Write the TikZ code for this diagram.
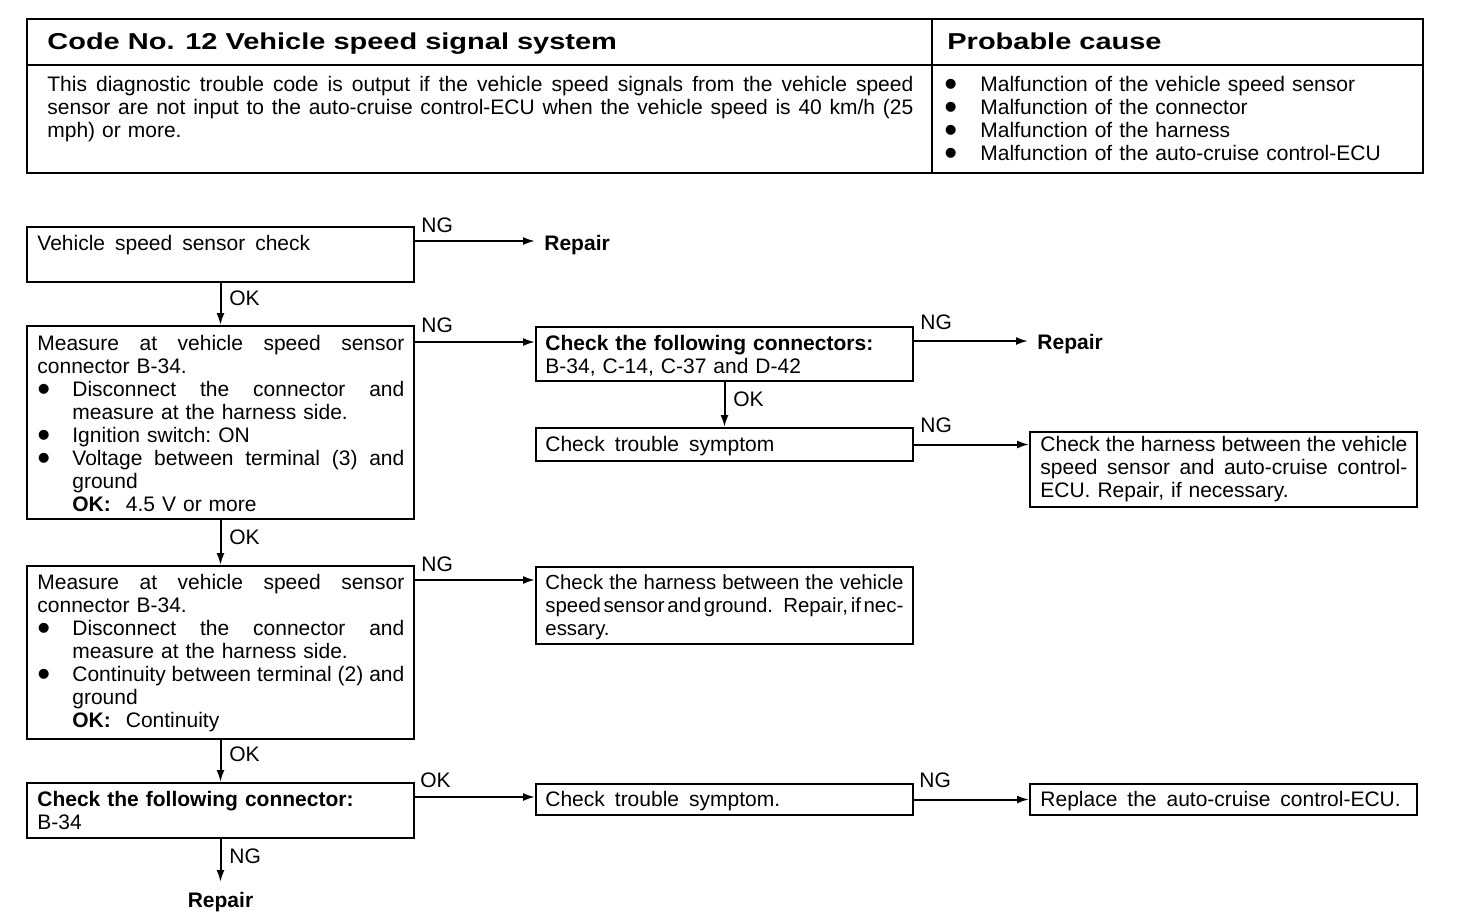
\documentclass[tikz,border=0pt]{standalone}
\usepackage{fontspec}
\setmainfont{Liberation Sans}
\usetikzlibrary{arrows.meta,calc,fit}
\newcommand\jl[2]{\leavevmode\hbox to #1{\spaceskip=2pt plus 1fil\relax #2}}
\newcommand\jlt[2]{\leavevmode\hbox to #1{\spaceskip=0.6pt plus 1fil\relax #2}}
\newcommand\bdot{\smash{\raisebox{-0.24em}{\scalebox{1.75}{\textbullet}}}}
\newcommand\bul{\makebox[17.5pt][l]{\bdot}}
\newcommand\bulc{\makebox[18pt][l]{\bdot}}
\newcommand\ind{\hspace*{17.5pt}}
\newcommand\bodyfont{\fontsize{10.5}{11.5}\selectfont\frenchspacing\spaceskip=5pt plus 2pt minus 1pt\relax}
\tikzset{
  box/.style={draw, line width=1pt, inner sep=0pt},
  txt/.style={inner sep=0pt, anchor=base west, align=left, font=\bodyfont},
  lbl/.style={inner sep=0pt, anchor=west, font=\fontsize{10.5}{11.5}\selectfont},
  rep/.style={inner xsep=4.5pt, inner ysep=2pt, anchor=west, font=\fontsize{10.5}{11.5}\selectfont\bfseries},
  arr/.style={line width=1pt, -{Latex[length=6pt,width=4pt]}},
  head/.style={inner sep=0pt, anchor=base west, font=\fontsize{11.5}{13}\selectfont\bfseries},
}
\begin{document}
\begin{tikzpicture}[x=0.5pt,y=-0.5pt]
\useasboundingbox (0,0) rectangle (1472,918);

% ---------- top table ----------
\node[box, line width=1.2pt, fit={(27,19) (1423,173)}] (tbl) {};
\draw[line width=1pt] (27,65) -- (1423,65);
\draw[line width=1pt] (932,19) -- (932,173);
\node[head] (title) at (47,49) {\scalebox{1.26}[1]{Code No. 12 Vehicle speed signal system}};
\node[head] (pc) at (947,49) {\scalebox{1.26}[1]{Probable cause}};
\node[txt, text width=433pt] (desc) at (47,91) {%
\jl{433pt}{This diagnostic trouble code is output if the vehicle speed signals from the vehicle speed}\\
\jl{433pt}{sensor are not input to the auto-cruise control-ECU when the vehicle speed is 40 km/h (25}\\
mph) or more.};
\node[txt, text width=235pt] (cause) at (944,91) {%
\bulc Malfunction of the vehicle speed sensor\\
\bulc Malfunction of the connector\\
\bulc Malfunction of the harness\\
\bulc Malfunction of the auto-cruise control-ECU};

% ---------- boxes ----------
\node[box, fit={(27,227) (414,282)}] (b1) {};
\node[txt] (t1) at (37,250) {Vehicle speed sensor check};

\node[box, fit={(27,326) (414,519)}] (b2) {};
\node[txt, text width=183.5pt] (t2) at (37,350) {%
\jl{183.5pt}{Measure at vehicle speed sensor}\\
connector B-34.\\
\bul\jl{166pt}{Disconnect the connector and}\\
\ind measure at the harness side.\\
\bul Ignition switch: ON\\
\bul\jl{166pt}{Voltage between terminal (3) and}\\
\ind ground\\
\ind\textbf{OK:}\hspace{4pt} 4.5 V or more};

\node[box, fit={(536,327) (913,381)}] (b3) {};
\node[txt, text width=180pt] (t3) at (545,350) {\textbf{Check the following connectors:}\\B-34, C-14, C-37 and D-42};

\node[box, fit={(536,428) (913,461)}] (b4) {};
\node[txt] (t4) at (545,451) {Check trouble symptom};

\node[box, fit={(1030,432) (1417,507)}] (b5) {};
\node[txt, text width=183.5pt] (t5) at (1040,451) {%
\jl{183.5pt}{Check the harness between the vehicle}\\
\jl{183.5pt}{speed sensor and auto-cruise control-}\\
ECU. Repair, if necessary.};

\node[box, fit={(27,566) (414,739)}] (b6) {};
\node[txt, text width=183.5pt] (t6) at (37,589) {%
\jl{183.5pt}{Measure at vehicle speed sensor}\\
connector B-34.\\
\bul\jl{166pt}{Disconnect the connector and}\\
\ind measure at the harness side.\\
\bul\jl{166pt}{Continuity between terminal (2) and}\\
\ind ground\\
\ind\textbf{OK:}\hspace{4pt} Continuity};

\node[box, fit={(536,567) (913,644)}] (b7) {};
\node[txt, text width=179pt, font=\fontsize{10.2}{11.5}\selectfont] (t7) at (545,589) {%
\jl{179pt}{Check the harness between the vehicle}\\
\jlt{179pt}{speed sensor and ground. Repair, if nec-}\\
essary.};

\node[box, fit={(27,783) (414,838)}] (b8) {};
\node[txt, text width=180pt] (t8) at (37,806) {\textbf{Check the following connector:}\\B-34};

\node[box, fit={(536,784) (913,815)}] (b9) {};
\node[txt] (t9) at (545,806) {Check trouble symptom.};

\node[box, fit={(1030,784) (1417,815)}] (b10) {};
\node[txt] (t10) at (1040,806) {Replace the auto-cruise control-ECU.};

% ---------- repair terminals ----------
\node[rep] (r1) at (535,245) {Repair};
\node[rep] (r2) at (1028,344) {Repair};
\node[rep, anchor=north, inner ysep=5pt] (r3) at (220.5,882) {Repair};

% ---------- connectors ----------
\coordinate (c1) at ($(b1.north east)+(0,15)$);
\draw[arr] (c1) -- (c1 -| r1.west);
\draw[arr] (b1.south) -- (b2.north);
\coordinate (c2) at ($(b2.north east)+(0,17)$);
\draw[arr] (c2) -- (c2 -| b3.west);
\coordinate (c3) at ($(b3.north east)+(0,15)$);
\draw[arr] (c3) -- (c3 -| r2.west);
\draw[arr] (b3.south) -- (b4.north);
\draw[arr] (b4.east) -- (b4.east -| b5.west);
\draw[arr] (b2.south) -- (b6.north);
\coordinate (c6) at ($(b6.north east)+(0,15)$);
\draw[arr] (c6) -- (c6 -| b7.west);
\draw[arr] (b6.south) -- (b8.north);
\coordinate (c8) at ($(b8.north east)+(0,15)$);
\draw[arr] (c8) -- (c8 -| b9.west);
\draw[arr] (b9.east) -- (b10.west);
\draw[arr] (b8.south) -- (r3.north);

% ---------- labels ----------
\node[lbl] (l1) at (421,225) {NG};
\node[lbl] (l2) at (229,298) {OK};
\node[lbl] (l3) at (421,325) {NG};
\node[lbl] (l4) at (920,322) {NG};
\node[lbl] (l5) at (733,399) {OK};
\node[lbl] (l6) at (920,425) {NG};
\node[lbl] (l7) at (229,537) {OK};
\node[lbl] (l8) at (421,564) {NG};
\node[lbl] (l9) at (229,754) {OK};
\node[lbl] (l10) at (420,780) {OK};
\node[lbl] (l11) at (919,780) {NG};
\node[lbl] (l12) at (229,856) {NG};
\end{tikzpicture}
\end{document}
